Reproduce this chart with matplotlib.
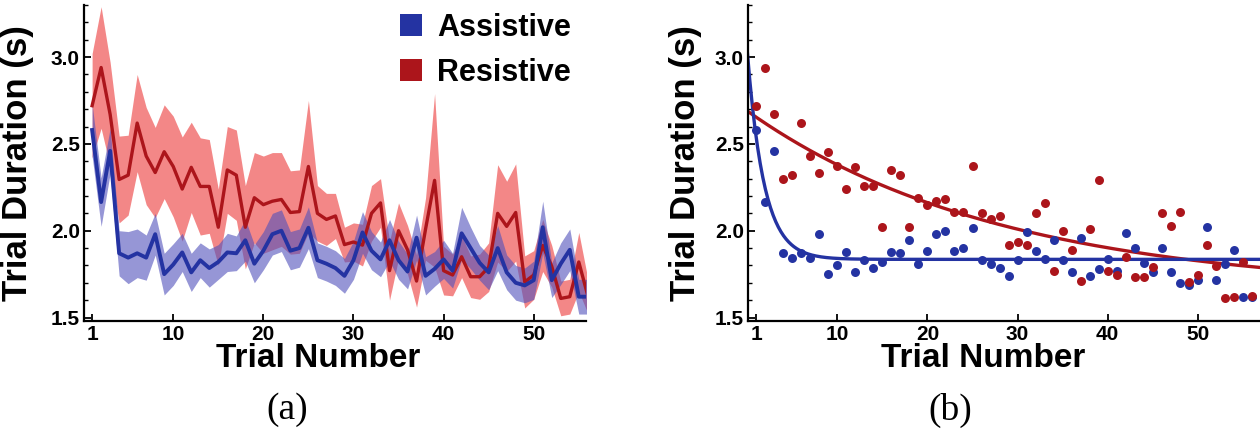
import numpy as np
import matplotlib
matplotlib.use('Agg')
import matplotlib.pyplot as plt
from matplotlib.patches import Patch
from matplotlib.ticker import MultipleLocator

# mean trial duration per trial (s)
trials = np.arange(1, 57)
assist_mean = [2.58, 2.165, 2.46, 1.87, 1.845, 1.87, 1.845, 1.98, 1.75, 1.805,
               1.875, 1.76, 1.83, 1.785, 1.82, 1.875, 1.87, 1.945, 1.81, 1.885,
               1.98, 2.0, 1.885, 1.90, 2.017, 1.83, 1.81, 1.785, 1.74, 1.83,
               1.99, 1.885, 1.835, 1.945, 1.83, 1.765, 1.96, 1.74, 1.78, 1.835,
               1.77, 1.985, 1.90, 1.815, 1.76, 1.90, 1.76, 1.70, 1.685, 1.715,
               2.02, 1.715, 1.81, 1.89, 1.62, 1.62]
resist_mean = [2.72, 2.94, 2.67, 2.295, 2.32, 2.62, 2.43, 2.335, 2.455, 2.37,
               2.24, 2.365, 2.255, 2.255, 2.02, 2.35, 2.32, 2.02, 2.19, 2.15,
               2.17, 2.18, 2.105, 2.11, 2.37, 2.10, 2.065, 2.085, 1.92, 1.935,
               1.917, 2.10, 2.16, 1.77, 2.0, 1.89, 1.71, 2.01, 2.29, 1.77,
               1.745, 1.85, 1.735, 1.735, 1.79, 2.10, 2.025, 2.105, 1.705, 1.745,
               1.915, 1.795, 1.61, 1.62, 1.82, 1.625]

# half width of the shaded bands in (a)
assist_sd = [0.15, 0.14, 0.13, 0.13, 0.15, 0.14, 0.13, 0.12, 0.12, 0.12,
             0.11, 0.11, 0.10, 0.11, 0.10, 0.11, 0.10, 0.12, 0.11, 0.11,
             0.12, 0.12, 0.11, 0.11, 0.12, 0.10, 0.10, 0.10, 0.10, 0.11,
             0.12, 0.11, 0.10, 0.12, 0.11, 0.10, 0.13, 0.11, 0.10, 0.11,
             0.10, 0.15, 0.12, 0.10, 0.10, 0.13, 0.10, 0.10, 0.10, 0.11,
             0.15, 0.10, 0.12, 0.12, 0.10, 0.10]
resist_sd = [0.30, 0.35, 0.30, 0.25, 0.23, 0.28, 0.28, 0.26, 0.27, 0.29,
             0.30, 0.26, 0.28, 0.27, 0.22, 0.25, 0.26, 0.24, 0.26, 0.28,
             0.28, 0.27, 0.24, 0.24, 0.38, 0.16, 0.15, 0.13, 0.10, 0.11,
             0.12, 0.16, 0.14, 0.17, 0.16, 0.14, 0.15, 0.18, 0.50, 0.14,
             0.12, 0.12, 0.12, 0.13, 0.14, 0.28, 0.26, 0.28, 0.15, 0.14,
             0.15, 0.12, 0.10, 0.10, 0.17, 0.10]

# exponential fits in (b): plateau, amplitude, time constant
assist_fit = (1.835, 1.205, 1.85)
resist_fit = (1.65, 1.04, 28.2)

blue_line = '#2433a2'
blue_band = '#5050bb'
red_line = '#ac151b'
red_band = '#f27272'

plt.rcParams['font.family'] = ['Liberation Sans', 'DejaVu Sans']

fig = plt.figure(figsize=(12.6, 4.37), dpi=100)
W, H = 1260, 437
ax1 = fig.add_axes([84 / W, 1 - 321 / H, 502 / W, 316 / H])
ax2 = fig.add_axes([748 / W, 1 - 321 / H, 512 / W, 316 / H])

am = np.array(assist_mean)
rm = np.array(resist_mean)
asd = np.array(assist_sd)
rsd = np.array(resist_sd)

# (a) mean +/- band
ax1.fill_between(trials, rm - rsd, rm + rsd, color=red_band, alpha=0.85, lw=0)
ax1.fill_between(trials, am - asd, am + asd, color=blue_band, alpha=0.6, lw=0)
ax1.plot(trials, rm, color=red_line, lw=2.4)
ax1.plot(trials, am, color=blue_line, lw=2.8)
ax1.set_xlim(0.1, 55.8)

handles = [Patch(facecolor=blue_line, edgecolor='none'),
           Patch(facecolor=red_line, edgecolor='none')]
ax1.legend(handles, ['Assistive', 'Resistive'], loc='upper left',
           bbox_to_anchor=(400 / W, 1 - 13 / H), bbox_transform=fig.transFigure,
           frameon=False, prop=dict(weight='bold', size=22),
           handlelength=0.72, handleheight=0.72, handletextpad=0.5,
           labelspacing=0.48, borderpad=0, borderaxespad=0)

# (b) trial means with exponential fits
tt = np.linspace(0, 57.5, 400)
ax2.plot(tt, resist_fit[0] + resist_fit[1] * np.exp(-tt / resist_fit[2]),
         color=red_line, lw=2.4, zorder=2)
ax2.plot(tt, assist_fit[0] + assist_fit[1] * np.exp(-tt / assist_fit[2]),
         color=blue_line, lw=2.4, zorder=2)
ax2.scatter(trials, am, s=42, color=blue_line, lw=0, zorder=3)
ax2.scatter(trials, rm, s=42, color=red_line, lw=0, zorder=3)
ax2.set_xlim(0.09, 56.9)

for ax, lx, ly in [(ax1, 0.466, -0.0996), (ax2, 0.459, -0.09)]:
    ax.set_ylim(1.48, 3.30)
    ax.spines['top'].set_visible(False)
    ax.spines['right'].set_visible(False)
    ax.spines['left'].set_linewidth(1.6)
    ax.spines['bottom'].set_linewidth(1.6)
    ax.set_xticks([1, 10, 20, 30, 40, 50])
    ax.set_yticks([1.5, 2.0, 2.5, 3.0])
    ax.yaxis.set_minor_locator(MultipleLocator(0.1))
    ax.tick_params(axis='both', which='major', direction='in', length=5,
                   width=1.3, labelsize=15, pad=3)
    ax.tick_params(axis='y', which='minor', direction='in', length=3, width=1.0)
    for lab in ax.get_xticklabels() + ax.get_yticklabels():
        lab.set_fontweight('bold')
    ax.set_xlabel('Trial Number', fontsize=24, fontweight='bold')
    ax.set_ylabel('Trial Duration (s)', fontsize=25, fontweight='bold')
    ax.xaxis.set_label_coords(lx, -0.07)
    ax.yaxis.set_label_coords(ly, 0.5)

fig.text(287 / W, 1 - 410 / H, '(a)', fontsize=27, family='Liberation Serif',
         ha='center', va='center')
fig.text(950 / W, 1 - 410 / H, '(b)', fontsize=27, family='Liberation Serif',
         ha='center', va='center')

fig.savefig('out.png', dpi=100)
